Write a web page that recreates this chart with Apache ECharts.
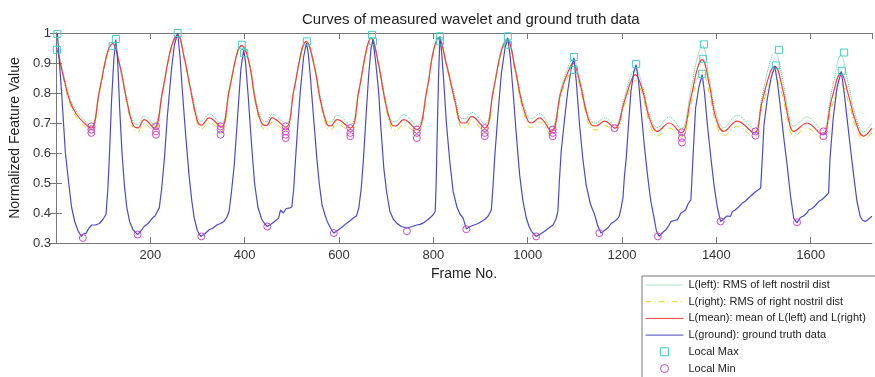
<!DOCTYPE html>
<html>
<head>
<meta charset="utf-8">
<script src="https://cdn.jsdelivr.net/npm/echarts@6.0.0/dist/echarts.min.js"></script>
<style>
  html, body { margin: 0; padding: 0; background: #fff; }
  #chart { width: 875px; height: 377px; }
</style>
</head>
<body>
<div id="chart"></div>
<script>
const smoothFrames = [
  3, 15, 29, 43, 60, 75, 92, 110, 120,
  135, 149, 163, 174, 187, 208, 226, 244, 258,
  272, 286, 300, 308, 325, 350, 367, 385, 394,
  409, 423, 437, 447, 458, 487, 504, 522, 530,
  547, 561, 575, 582, 596, 624, 642, 659, 668,
  684, 698, 712, 720, 737, 765, 786, 800, 811,
  828, 846, 860, 868, 881, 909, 927, 944, 957,
  973, 987, 1001, 1008, 1025, 1050, 1071, 1089, 1096,
  1110, 1124, 1135, 1145, 1163, 1185, 1205, 1219, 1228,
  1244, 1258, 1275, 1300, 1325, 1346, 1360, 1370,
  1385, 1399, 1416, 1444, 1480, 1497, 1515, 1524,
  1540, 1554, 1564, 1592, 1624, 1645, 1664,
  1680, 1695, 1712, 1730
];

const leftVals = [
  0.95, 0.87, 0.785, 0.74, 0.71, 0.69, 0.81, 0.94, 0.965,
  0.9, 0.79, 0.705, 0.695, 0.724, 0.695, 0.81, 0.95, 0.994,
  0.92, 0.815, 0.72, 0.705, 0.73, 0.697, 0.81, 0.94, 0.96,
  0.91, 0.785, 0.71, 0.705, 0.73, 0.697, 0.81, 0.95, 0.972,
  0.9, 0.785, 0.705, 0.703, 0.725, 0.695, 0.81, 0.95, 0.983,
  0.9, 0.785, 0.707, 0.705, 0.728, 0.69, 0.81, 0.94, 0.985,
  0.9, 0.785, 0.715, 0.715, 0.735, 0.697, 0.81, 0.945, 0.985,
  0.89, 0.785, 0.72, 0.715, 0.73, 0.685, 0.815, 0.9, 0.915,
  0.85, 0.75, 0.705, 0.70, 0.718, 0.69, 0.785, 0.86, 0.88,
  0.82, 0.73, 0.685, 0.72, 0.68, 0.81, 0.92, 0.958,
  0.85, 0.735, 0.685, 0.725, 0.68, 0.79, 0.91, 0.935,
  0.85, 0.725, 0.69, 0.72, 0.675, 0.81, 0.925,
  0.83, 0.725, 0.67, 0.70
];

const rightVals = [
  0.94, 0.855, 0.765, 0.72, 0.69, 0.672, 0.80, 0.935, 0.96,
  0.89, 0.775, 0.685, 0.672, 0.698, 0.672, 0.80, 0.945, 0.99,
  0.912, 0.80, 0.695, 0.68, 0.703, 0.673, 0.80, 0.935, 0.955,
  0.9, 0.765, 0.685, 0.678, 0.703, 0.674, 0.80, 0.945, 0.97,
  0.89, 0.765, 0.682, 0.677, 0.697, 0.67, 0.80, 0.945, 0.98,
  0.89, 0.765, 0.68, 0.675, 0.694, 0.665, 0.80, 0.935, 0.98,
  0.89, 0.765, 0.685, 0.684, 0.707, 0.668, 0.80, 0.935, 0.972,
  0.875, 0.76, 0.692, 0.685, 0.703, 0.658, 0.795, 0.865, 0.88,
  0.825, 0.728, 0.68, 0.677, 0.692, 0.672, 0.76, 0.82, 0.842,
  0.79, 0.703, 0.657, 0.683, 0.652, 0.76, 0.85, 0.87,
  0.80, 0.70, 0.658, 0.688, 0.652, 0.755, 0.835, 0.85,
  0.79, 0.69, 0.656, 0.683, 0.646, 0.755, 0.83,
  0.77, 0.69, 0.645, 0.668
];

const meanVals = [
  0.945, 0.86, 0.775, 0.73, 0.70, 0.683, 0.806, 0.94, 0.965,
  0.894, 0.783, 0.695, 0.684, 0.711, 0.683, 0.806, 0.95, 0.994,
  0.917, 0.806, 0.706, 0.693, 0.717, 0.686, 0.806, 0.939, 0.958,
  0.904, 0.772, 0.697, 0.692, 0.717, 0.686, 0.806, 0.95, 0.972,
  0.894, 0.772, 0.694, 0.69, 0.711, 0.683, 0.806, 0.95, 0.983,
  0.894, 0.772, 0.694, 0.69, 0.711, 0.678, 0.806, 0.939, 0.983,
  0.894, 0.772, 0.70, 0.70, 0.722, 0.683, 0.806, 0.939, 0.978,
  0.883, 0.772, 0.706, 0.70, 0.717, 0.672, 0.806, 0.883, 0.90,
  0.839, 0.739, 0.694, 0.69, 0.706, 0.683, 0.772, 0.839, 0.861,
  0.806, 0.717, 0.672, 0.70, 0.667, 0.783, 0.883, 0.911,
  0.828, 0.717, 0.672, 0.706, 0.667, 0.772, 0.872, 0.889,
  0.817, 0.706, 0.672, 0.70, 0.661, 0.783, 0.867,
  0.794, 0.706, 0.656, 0.683
];

// ground truth [frame, value]
const groundPts = [
  [3, 1.0], [12, 0.80], [20, 0.60], [27, 0.50], [33, 0.42], [40, 0.37], [47, 0.34], [54, 0.322], [58, 0.33],
  [64, 0.333], [70, 0.35], [76, 0.36], [84, 0.36], [92, 0.365], [100, 0.38], [106, 0.395], [110, 0.48],
  [113, 0.58], [118, 0.78], [123, 0.92], [127, 0.978], [131, 0.90], [135, 0.75], [140, 0.60], [145, 0.494],
  [150, 0.42], [156, 0.372], [163, 0.345], [173, 0.328], [180, 0.34], [187, 0.355], [195, 0.365], [205, 0.384],
  [210, 0.39], [215, 0.405], [219, 0.417], [224, 0.48], [230, 0.584], [236, 0.72], [245, 0.88], [251, 0.96],
  [258, 1.0], [263, 0.92], [268, 0.806], [275, 0.66], [282, 0.527], [288, 0.44], [293, 0.384], [300, 0.34],
  [307, 0.322], [315, 0.33], [325, 0.344], [333, 0.35], [342, 0.361], [349, 0.365], [356, 0.372], [362, 0.385],
  [367, 0.405], [372, 0.47], [378, 0.561], [385, 0.72], [392, 0.88], [398, 0.944], [402, 0.90], [408, 0.78],
  [415, 0.62], [421, 0.50], [428, 0.42], [436, 0.38], [442, 0.365], [448, 0.355], [458, 0.365], [466, 0.375],
  [472, 0.383], [476, 0.41], [482, 0.40], [488, 0.415], [494, 0.416], [500, 0.42], [504, 0.48], [508, 0.583],
  [513, 0.70], [518, 0.806], [525, 0.92], [531, 0.967], [535, 0.93], [539, 0.861], [546, 0.72], [553, 0.583],
  [558, 0.50], [564, 0.428], [570, 0.395], [575, 0.372], [582, 0.35], [589, 0.333], [594, 0.338], [599, 0.344],
  [608, 0.355], [617, 0.367], [624, 0.375], [631, 0.384], [637, 0.39], [642, 0.417], [647, 0.48], [652, 0.583],
  [658, 0.74], [663, 0.861], [668, 0.95], [672, 0.978], [678, 0.90], [684, 0.806], [689, 0.68], [695, 0.55],
  [701, 0.47], [708, 0.405], [715, 0.38], [722, 0.367], [732, 0.355], [744, 0.35], [755, 0.355], [765, 0.36],
  [772, 0.362], [779, 0.367], [786, 0.375], [793, 0.384], [800, 0.395], [804, 0.405], [806, 0.50], [808, 0.65],
  [811, 0.85], [814, 0.989], [818, 0.93], [822, 0.84], [828, 0.694], [835, 0.57], [842, 0.472], [850, 0.42],
  [857, 0.395], [863, 0.384], [870, 0.347], [878, 0.355], [888, 0.361], [895, 0.365], [902, 0.372], [910, 0.38],
  [916, 0.389], [923, 0.41], [927, 0.50], [930, 0.583], [937, 0.73], [944, 0.861], [952, 0.95], [958, 0.983],
  [963, 0.92], [969, 0.806], [976, 0.66], [983, 0.527], [990, 0.44], [997, 0.384], [1003, 0.355], [1008, 0.339],
  [1018, 0.322], [1027, 0.33], [1036, 0.339], [1045, 0.35], [1054, 0.361], [1060, 0.38], [1064, 0.405],
  [1067, 0.50], [1071, 0.605], [1078, 0.71], [1085, 0.806], [1092, 0.88], [1098, 0.917], [1103, 0.84],
  [1110, 0.694], [1117, 0.58], [1124, 0.494], [1133, 0.43], [1142, 0.394], [1148, 0.36], [1152, 0.344],
  [1156, 0.333], [1163, 0.342], [1170, 0.35], [1177, 0.365], [1184, 0.372], [1190, 0.38], [1194, 0.389],
  [1198, 0.416], [1202, 0.45], [1205, 0.52], [1209, 0.583], [1214, 0.70], [1219, 0.806], [1225, 0.87],
  [1230, 0.894], [1235, 0.84], [1240, 0.75], [1247, 0.63], [1254, 0.527], [1261, 0.44], [1268, 0.384],
  [1273, 0.34], [1279, 0.322], [1286, 0.335], [1293, 0.344], [1300, 0.36], [1304, 0.372], [1311, 0.375],
  [1318, 0.378], [1325, 0.40], [1330, 0.405], [1335, 0.411], [1340, 0.43], [1346, 0.444], [1351, 0.60],
  [1356, 0.75], [1363, 0.82], [1370, 0.861], [1375, 0.80], [1381, 0.694], [1388, 0.59], [1395, 0.494],
  [1402, 0.42], [1409, 0.372], [1416, 0.38], [1422, 0.39], [1430, 0.389], [1434, 0.405], [1440, 0.41],
  [1447, 0.42], [1455, 0.433], [1462, 0.44], [1468, 0.45], [1476, 0.461], [1482, 0.47], [1487, 0.475],
  [1494, 0.483], [1498, 0.60], [1501, 0.694], [1508, 0.78], [1516, 0.85], [1524, 0.889], [1530, 0.83],
  [1536, 0.75], [1543, 0.65], [1550, 0.561], [1557, 0.46], [1564, 0.383], [1571, 0.367], [1578, 0.385],
  [1585, 0.39], [1592, 0.40], [1596, 0.41], [1603, 0.415], [1610, 0.425], [1617, 0.438], [1624, 0.445],
  [1631, 0.455], [1638, 0.467], [1641, 0.583], [1648, 0.72], [1656, 0.82], [1665, 0.872], [1671, 0.80],
  [1677, 0.717], [1684, 0.62], [1691, 0.527], [1698, 0.44], [1705, 0.389], [1710, 0.375], [1716, 0.372],
  [1723, 0.38], [1730, 0.389]
];

const localMax = [
  [3, 0.997], [2, 0.944], [127, 0.98], [120, 0.956], [258, 1.0], [394, 0.961], [399, 0.933],
  [532, 0.972], [670, 0.994], [672, 0.972], [814, 0.989], [814, 0.972], [958, 0.989], [958, 0.961],
  [1098, 0.92], [1098, 0.877], [1230, 0.897], [1374, 0.962], [1372, 0.914], [1370, 0.864],
  [1533, 0.944], [1526, 0.892], [1671, 0.935], [1666, 0.874]
];

const localMin = [
  [57, 0.317], [75, 0.689], [75, 0.678], [75, 0.667], [173, 0.328], [212, 0.689], [212, 0.672],
  [212, 0.661], [308, 0.322], [349, 0.689], [349, 0.678], [349, 0.661], [448, 0.355], [487, 0.689],
  [487, 0.672], [487, 0.661], [487, 0.65], [589, 0.333], [624, 0.683], [624, 0.667], [624, 0.656],
  [744, 0.339], [765, 0.678], [765, 0.667], [765, 0.65], [870, 0.346], [909, 0.683], [909, 0.667],
  [909, 0.656], [1018, 0.322], [1053, 0.678], [1053, 0.667], [1053, 0.656], [1152, 0.333], [1184, 0.683],
  [1276, 0.322], [1327, 0.669], [1327, 0.65], [1327, 0.635], [1409, 0.372], [1483, 0.672], [1483, 0.658],
  [1571, 0.369], [1627, 0.672], [1627, 0.656]
];

const names = [
  'L(left): RMS of left nostril dist',
  'L(right): RMS of right nostril dist',
  'L(mean): mean of L(left) and L(right)',
  'L(ground): ground truth data',
  'Local Max',
  'Local Min'
];

const font = '"Liberation Sans", Arial, sans-serif';
const zip = (xs, ys) => xs.map((x, i) => [x, ys[i]]);

const chart = echarts.init(document.getElementById('chart'));

const xBase = {
  type: 'value', min: 0, max: 1730, interval: 200,
  axisLine: { lineStyle: { color: '#777', width: 1 } },
  axisTick: { inside: true, length: 6, lineStyle: { color: '#777' } },
  splitLine: { show: false }
};
const yBase = {
  type: 'value', min: 0.3, max: 1, interval: 0.1,
  axisLine: { show: true, lineStyle: { color: '#777', width: 1 } },
  axisTick: { show: true, inside: true, length: 6, lineStyle: { color: '#777' } },
  splitLine: { show: false }
};

const option = {
  animation: false,
  backgroundColor: '#fff',
  title: {
    text: 'Curves of measured wavelet and ground truth data',
    left: 297, top: 7,
    textStyle: { fontFamily: font, fontSize: 15, fontWeight: 'normal', color: '#222' }
  },
  grid: { left: 53, right: 3, top: 33, bottom: 134 },
  xAxis: [
    Object.assign({}, xBase, {
      position: 'bottom',
      name: 'Frame No.', nameLocation: 'middle', nameGap: 22,
      nameTextStyle: { fontFamily: font, fontSize: 14, color: '#222' },
      axisLabel: {
        fontFamily: font, fontSize: 13, color: '#333', margin: 6,
        showMinLabel: false, showMaxLabel: false,
        formatter: v => String(v)
      }
    }),
    Object.assign({}, xBase, { position: 'top', axisLabel: { show: false } })
  ],
  yAxis: [
    Object.assign({}, yBase, {
      position: 'left',
      name: 'Normalized Feature Value', nameLocation: 'middle', nameGap: 31,
      nameTextStyle: { fontFamily: font, fontSize: 14, color: '#222' },
      axisLabel: { fontFamily: font, fontSize: 13, color: '#333', margin: 5 }
    }),
    Object.assign({}, yBase, { position: 'right', axisLabel: { show: false } })
  ],
  legend: {
    orient: 'vertical',
    left: 642, top: 276, height: 120,
    padding: [3, 60, 3, 3],
    itemWidth: 38, itemHeight: 10, itemGap: 4.7,
    backgroundColor: '#fff',
    borderColor: '#777', borderWidth: 1,
    textStyle: { fontFamily: font, fontSize: 11, color: '#222', lineHeight: 12 },
    itemStyle: { borderWidth: 1 },
    lineStyle: { width: 1 },
    data: [
      { name: names[0], itemStyle: { opacity: 0 } },
      { name: names[1], itemStyle: { opacity: 0 } },
      { name: names[2], itemStyle: { opacity: 0 } },
      { name: names[3], itemStyle: { opacity: 0 } },
      { name: names[4] },
      { name: names[5] }
    ]
  },
  series: [
    {
      name: names[0], type: 'line', smooth: 0.4, symbol: 'none',
      data: zip(smoothFrames, leftVals),
      itemStyle: { color: '#55cc80' },
      lineStyle: { color: '#55cc80', width: 1, type: 'dotted' }
    },
    {
      name: names[1], type: 'line', smooth: 0.4, symbol: 'none',
      data: zip(smoothFrames, rightVals),
      itemStyle: { color: '#e2d41a' },
      lineStyle: { color: '#e2d41a', width: 1, type: [6, 3, 1, 3] }
    },
    {
      name: names[2], type: 'line', smooth: 0.4, symbol: 'none',
      data: zip(smoothFrames, meanVals),
      itemStyle: { color: '#f23c3c' },
      lineStyle: { color: '#f23c3c', width: 1.2 }
    },
    {
      name: names[3], type: 'line', symbol: 'none',
      data: groundPts,
      itemStyle: { color: '#4a4ac6' },
      lineStyle: { color: '#4a4ac6', width: 1.2 }
    },
    {
      name: names[4], type: 'line', symbol: 'rect', symbolSize: 7,
      data: localMax,
      itemStyle: { color: 'rgba(255,255,255,0)', borderColor: '#44ccc4', borderWidth: 1 },
      lineStyle: { opacity: 0, width: 0 }
    },
    {
      name: names[5], type: 'line', symbol: 'circle', symbolSize: 7,
      data: localMin,
      itemStyle: { color: 'rgba(255,255,255,0)', borderColor: '#c848c8', borderWidth: 1 },
      lineStyle: { opacity: 0, width: 0 }
    }
  ]
};

chart.setOption(option);
</script>
</body>
</html>
